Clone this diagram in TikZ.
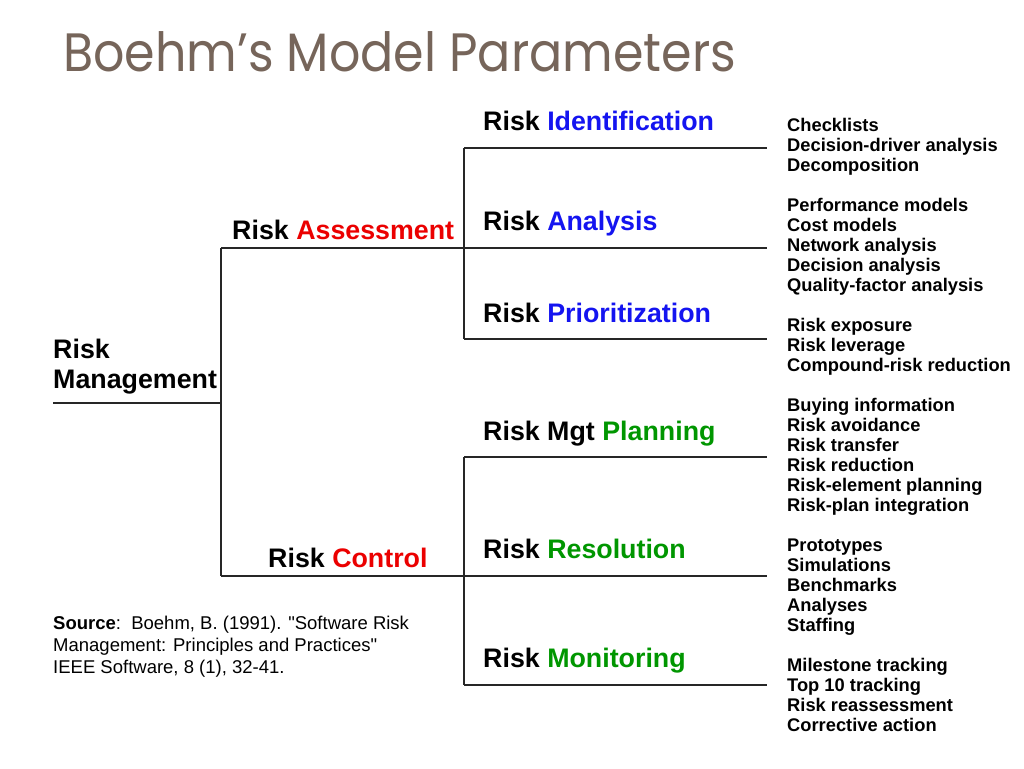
\documentclass[tikz,border=0pt]{standalone}
\usepackage{fontspec}
\setmainfont{Liberation Sans}
\newfontfamily\titlefont[FakeStretch=0.91]{Poppins}
\usetikzlibrary{positioning}
\definecolor{titleBrown}{RGB}{118,101,90}
\definecolor{analysisBlue}{RGB}{20,20,240}
\definecolor{phaseRed}{RGB}{235,0,0}
\definecolor{controlGreen}{RGB}{0,150,0}

\begin{document}
\begin{tikzpicture}[
    x = 1pt,
    y = -1pt,
    every node/.style = {inner sep = 0pt, anchor = base west},
    steplabel/.style = {font = \bfseries\fontsize{26.8}{30}\selectfont},
    techniques/.style = {font = \bfseries\fontsize{18.3}{20}\selectfont, align = left},
    branch/.style = {draw = black!85, line width = 1.4pt}
  ]
    \useasboundingbox (0, 0) rectangle (1024, 768);
    \node[font = \titlefont\fontsize{54}{60}\selectfont, text = titleBrown] (title) at (63, 71) {Boehm’s Model Parameters};

    % tree of steps
    \node[steplabel, align = left] (risk_management) at (53, 388) {Risk\\Management};
    \node[steplabel] (risk_assessment) at (232, 239) {Risk \textcolor{phaseRed}{Assessment}};
    \node[steplabel] (risk_control) at (268, 567) {Risk \textcolor{phaseRed}{Control}};
    \node[steplabel] (risk_identification) at (483, 130) {Risk \textcolor{analysisBlue}{Identification}};
    \node[steplabel] (risk_analysis) at (483, 230) {Risk \textcolor{analysisBlue}{Analysis}};
    \node[steplabel] (risk_prioritization) at (483, 322) {Risk \textcolor{analysisBlue}{Prioritization}};
    \node[steplabel] (risk_planning) at (483, 440) {Risk Mgt \textcolor{controlGreen}{Planning}};
    \node[steplabel] (risk_resolution) at (483, 558) {Risk \textcolor{controlGreen}{Resolution}};
    \node[steplabel] (risk_monitoring) at (483, 667) {Risk \textcolor{controlGreen}{Monitoring}};

    \coordinate (management_end) at (53, 403);
    \coordinate (management_fork) at (221, 403);
    \coordinate (assessment_fork) at (464, 248);
    \coordinate (control_fork) at (464, 576);
    \draw[branch] (management_end) -- (management_fork);
    \draw[branch] (221, 248) -- (assessment_fork);
    \draw[branch] (221, 576) -- (control_fork);
    \draw[branch] (221, 248) -- (221, 576);
    \draw[branch] (464, 148) -- (464, 339);
    \draw[branch] (464, 457) -- (464, 685);
    \draw[branch] (464, 148) -- (767, 148);
    \draw[branch] (assessment_fork) -- (767, 248);
    \draw[branch] (464, 339) -- (767, 339);
    \draw[branch] (464, 457) -- (767, 457);
    \draw[branch] (control_fork) -- (767, 576);
    \draw[branch] (464, 685) -- (767, 685);

    % techniques for each step (placed by their last line)
    \node[techniques] (identification_techniques) at (787, 171) {Checklists\\Decision-driver analysis\\Decomposition};
    \node[techniques] (analysis_techniques) at (787, 291) {Performance models\\Cost models\\Network analysis\\Decision analysis\\Quality-factor analysis};
    \node[techniques] (prioritization_techniques) at (787, 371) {Risk exposure\\Risk leverage\\Compound-risk reduction};
    \node[techniques] (planning_techniques) at (787, 511) {Buying information\\Risk avoidance\\Risk transfer\\Risk reduction\\Risk-element planning\\Risk-plan integration};
    \node[techniques] (resolution_techniques) at (787, 631) {Prototypes\\Simulations\\Benchmarks\\Analyses\\Staffing};
    \node[techniques] (monitoring_techniques) at (787, 731) {Milestone tracking\\Top 10 tracking\\Risk reassessment\\Corrective action};

    \node[font = \fontsize{18.5}{22}\selectfont, align = left] (source) at (53, 673) {\textbf{Source}:\ \ Boehm, B. (1991). \textquotedbl Software Risk\\Management: Principles and Practices\textquotedbl\\IEEE Software, 8 (1), 32-41.};
  \end{tikzpicture}
\end{document}
